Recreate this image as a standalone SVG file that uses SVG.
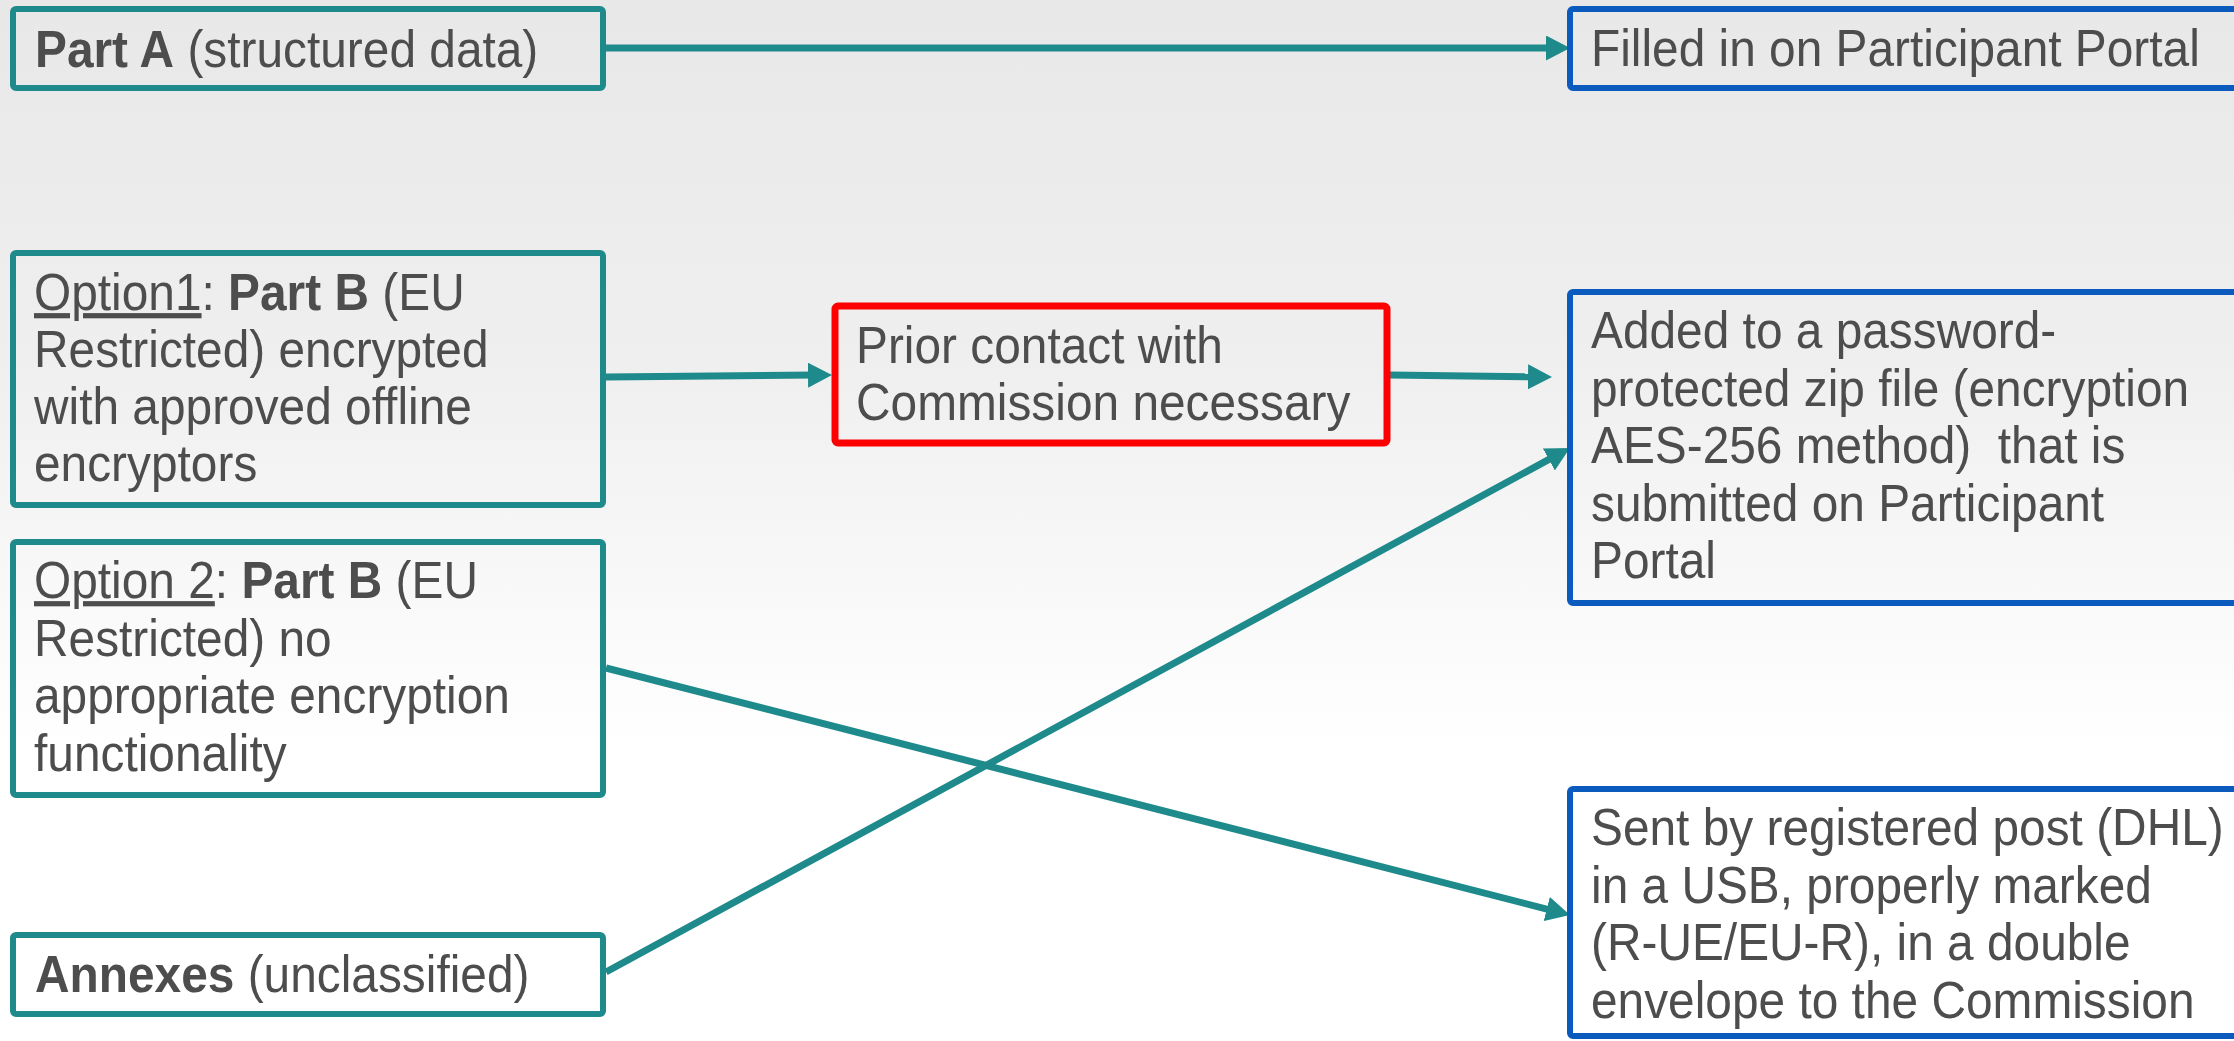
<svg xmlns="http://www.w3.org/2000/svg" width="2234" height="1041" viewBox="0 0 2234 1041">
  <defs>
    <linearGradient id="bg" x1="0" y1="0" x2="0" y2="1">
      <stop offset="0" stop-color="#e8e8e8"/>
      <stop offset="0.35" stop-color="#efefef"/>
      <stop offset="0.72" stop-color="#ffffff"/>
      <stop offset="1" stop-color="#ffffff"/>
    </linearGradient>
    <marker id="arrow" markerUnits="userSpaceOnUse" markerWidth="26" markerHeight="26" refX="7" refY="12.5" orient="auto">
      <path d="M0,0 L24,12.5 L0,25 Z" fill="#1f8a8b"/>
    </marker>
    <style>
      .teal { fill: none; stroke: #1f8a8b; stroke-width: 6; }
      .blue { fill: none; stroke: #0a5bbd; stroke-width: 6; }
      .red { fill: none; stroke: #ff0000; stroke-width: 7; }
      .conn { fill: none; stroke: #1f8a8b; stroke-width: 7; marker-end: url(#arrow); }
      text { font-family: "Liberation Sans", Arial, sans-serif; font-size: 52px; fill: #4d4d4d; }
      .b { font-weight: bold; }
      .u { text-decoration: underline; }
    </style>
  </defs>

  <rect x="0" y="0" width="2234" height="1041" fill="url(#bg)"/>

  <g id="connectors">
    <line class="conn" x1="606" y1="48" x2="1553" y2="48"/>
    <line class="conn" x1="606" y1="377" x2="815" y2="375.1"/>
    <line class="conn" x1="1390" y1="375" x2="1535" y2="376.8"/>
    <line class="conn" x1="606" y1="668" x2="1553.5" y2="910.8"/>
    <line class="conn" x1="606" y1="972" x2="1555" y2="456.1"/>
  </g>

  <g id="partA">
    <rect class="teal" x="13" y="9" width="590" height="79" rx="3"/>
    <g transform="translate(35,0) scale(0.92,1)">
      <text x="0" y="67"><tspan class="b">Part A</tspan> (structured data)</text>
    </g>
  </g>

  <g id="option1">
    <rect class="teal" x="13" y="253" width="590" height="252" rx="3"/>
    <g transform="translate(34,0) scale(0.92,1)">
      <text x="0" y="310"><tspan class="u">Option1</tspan>: <tspan class="b">Part B</tspan> (EU</text>
      <text x="0" y="367">Restricted) encrypted</text>
      <text x="0" y="424">with approved offline</text>
      <text x="0" y="481">encryptors</text>
    </g>
  </g>

  <g id="option2">
    <rect class="teal" x="13" y="542" width="590" height="253" rx="3"/>
    <g transform="translate(34,0) scale(0.92,1)">
      <text x="0" y="598"><tspan class="u">Option 2</tspan>: <tspan class="b">Part B</tspan> (EU</text>
      <text x="0" y="656">Restricted) no</text>
      <text x="0" y="713">appropriate encryption</text>
      <text x="0" y="771">functionality</text>
    </g>
  </g>

  <g id="annexes">
    <rect class="teal" x="13" y="935" width="590" height="79" rx="3"/>
    <g transform="translate(35,0) scale(0.92,1)">
      <text x="0" y="992"><tspan class="b">Annexes</tspan> (unclassified)</text>
    </g>
  </g>

  <g id="prior">
    <rect class="red" x="835" y="306" width="552" height="137" rx="3"/>
    <g transform="translate(856,0) scale(0.92,1)">
      <text x="0" y="363">Prior contact with</text>
      <text x="0" y="420">Commission necessary</text>
    </g>
  </g>

  <g id="filled">
    <rect class="blue" x="1570" y="9" width="700" height="79" rx="3"/>
    <g transform="translate(1591,0) scale(0.92,1)">
      <text x="0" y="66">Filled in on Participant Portal</text>
    </g>
  </g>

  <g id="added">
    <rect class="blue" x="1570" y="292" width="700" height="311" rx="3"/>
    <g transform="translate(1591,0) scale(0.92,1)">
      <text x="0" y="348">Added to a password-</text>
      <text x="0" y="406">protected zip file (encryption</text>
      <text x="0" y="463">AES-256 method)&#160; that is</text>
      <text x="0" y="521">submitted on Participant</text>
      <text x="0" y="578">Portal</text>
    </g>
  </g>

  <g id="sent">
    <rect class="blue" x="1570" y="789" width="700" height="247" rx="3"/>
    <g transform="translate(1591,0) scale(0.92,1)">
      <text x="0" y="845">Sent by registered post (DHL)</text>
      <text x="0" y="903">in a USB, properly marked</text>
      <text x="0" y="960">(R-UE/EU-R), in a double</text>
      <text x="0" y="1018">envelope to the Commission</text>
    </g>
  </g>
</svg>
